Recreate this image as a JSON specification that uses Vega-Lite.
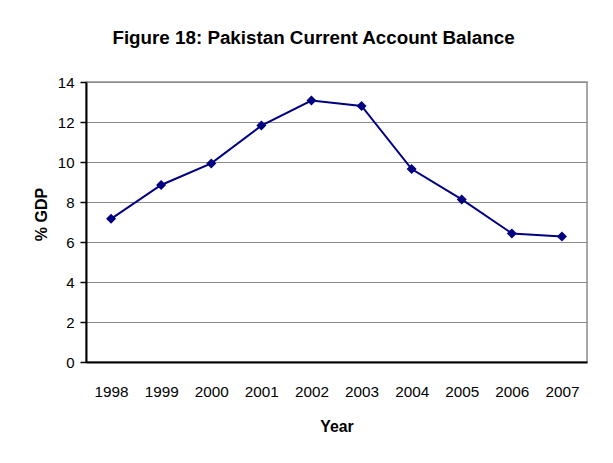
{
  "$schema": "https://vega.github.io/schema/vega-lite/v6.json",
  "width": 501,
  "height": 280,
  "autosize": {"type": "none"},
  "padding": {"left": 86, "top": 82, "right": 26, "bottom": 101},
  "background": "white",
  "title": {
    "text": "Figure 18: Pakistan Current Account Balance",
    "font": "Liberation Sans",
    "fontSize": 18.8,
    "fontWeight": "bold",
    "color": "black",
    "anchor": "middle",
    "baseline": "alphabetic",
    "offset": 37,
    "dy": 25,
    "dx": -23
  },
  "data": {
    "values": [
      {"Year": "1998", "GDP": 7.16},
      {"Year": "1999", "GDP": 8.85},
      {"Year": "2000", "GDP": 9.93},
      {"Year": "2001", "GDP": 11.82},
      {"Year": "2002", "GDP": 13.07},
      {"Year": "2003", "GDP": 12.8},
      {"Year": "2004", "GDP": 9.65},
      {"Year": "2005", "GDP": 8.13},
      {"Year": "2006", "GDP": 6.43},
      {"Year": "2007", "GDP": 6.27}
    ]
  },
  "encoding": {
    "x": {
      "field": "Year",
      "type": "ordinal",
      "scale": {"type": "point", "padding": 0.5},
      "axis": {
        "title": "Year",
        "labelAngle": 0,
        "ticks": false,
        "grid": false,
        "domainColor": "black",
        "domainWidth": 2,
        "labelFont": "Liberation Sans",
        "labelFontSize": 15.3,
        "labelColor": "black",
        "labelPadding": 22,
        "titleFont": "Liberation Sans",
        "titleFontSize": 15.8,
        "titleFontWeight": "bold",
        "titleColor": "black",
        "titlePadding": 20
      }
    },
    "y": {
      "field": "GDP",
      "type": "quantitative",
      "scale": {"domain": [0, 14], "nice": false},
      "axis": {
        "title": "% GDP",
        "values": [0, 2, 4, 6, 8, 10, 12, 14],
        "grid": true,
        "gridColor": "#8c8c8c",
        "gridWidth": 1,
        "domainColor": "black",
        "domainWidth": 2,
        "tickColor": "black",
        "tickSize": 6,
        "tickWidth": 1.5,
        "labelFont": "Liberation Sans",
        "labelFontSize": 15,
        "labelColor": "black",
        "labelPadding": 6,
        "titleFont": "Liberation Sans",
        "titleFontSize": 16,
        "titleFontWeight": "bold",
        "titleColor": "black",
        "titlePadding": 8,
        "titleY": 132
      }
    }
  },
  "layer": [
    {"mark": {"type": "line", "color": "#000080", "strokeWidth": 2}},
    {"mark": {"type": "point", "shape": "diamond", "filled": true, "color": "#000080", "opacity": 1, "size": 100}}
  ],
  "config": {
    "view": {"stroke": "#8c8c8c", "strokeWidth": 1.5}
  }
}
